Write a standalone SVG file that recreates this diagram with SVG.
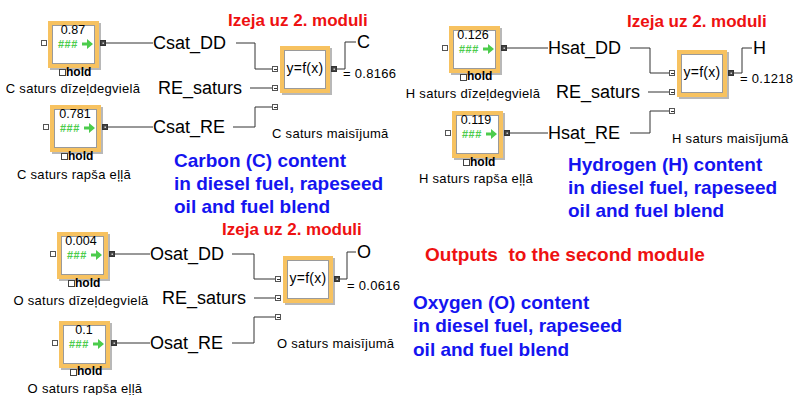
<svg xmlns="http://www.w3.org/2000/svg" xmlns:xlink="http://www.w3.org/1999/xlink" width="795" height="395" viewBox="0 0 795 395">
<style>
text{font-family:"Liberation Sans",Arial,sans-serif;fill:#000}
.var{font-size:18px}
.lbl{font-size:13px;letter-spacing:0.3px}
.val{font-size:12.5px;text-anchor:middle}
.hash{font-size:11px;font-weight:bold;fill:#4ccc4c;letter-spacing:0.5px}
.hold{font-size:12px;font-weight:bold}
.fx{font-size:14px;text-anchor:middle;letter-spacing:0.3px}
.res{font-size:13px;letter-spacing:0.3px}
.red{font-size:17px;font-weight:bold;fill:#ee1111}
.red2{font-size:19px;font-weight:bold;fill:#ee1111;white-space:pre}
.blue{font-size:19px;font-weight:bold;fill:#1414f0}
.shadow{fill:#b8b8b8}
.frame{fill:#fff;stroke:#f7c260;stroke-width:4}
.inner{fill:none;stroke:#9a9a9a;stroke-width:1}
.in{fill:#fff;stroke:#555;stroke-width:1}
.out{fill:#444;stroke:#333;stroke-width:1}
.chk{fill:#fff;stroke:#444;stroke-width:1}
.wire{fill:none;stroke:#333;stroke-width:1}
</style>
<defs>
<g id="nb">
<rect class="shadow" x="2" y="2" width="51" height="47"/>
<rect class="frame" x="2" y="2" width="47" height="43"/>
<rect class="inner" x="4.5" y="4.5" width="42" height="38"/>
<path d="M34,21.5 h5 v-3.5 l6,5 l-6,5 v-3.5 h-5 z" fill="#4ccc4c"/>
<rect class="in" x="-6.5" y="19.5" width="5" height="5"/>
<rect class="out" x="52.5" y="19.5" width="5" height="5"/>
<rect x="54.5" y="21.5" width="1.5" height="1.5" fill="#ccc"/>
<rect class="chk" x="11.5" y="48.5" width="6" height="6"/>
</g>
<g id="fb">
<rect class="shadow" x="2" y="2" width="50" height="47"/>
<rect class="frame" x="2" y="2" width="46" height="43"/>
<rect class="inner" x="4.5" y="4.5" width="41" height="38"/>
<rect class="in" x="-7.5" y="20.5" width="5" height="5"/><path d="M-6,23.5 h3" class="wire"/>
<rect class="in" x="-7.5" y="39.5" width="5" height="5"/><path d="M-6,42.5 h3" class="wire"/>
<rect class="in" x="-7.5" y="58.5" width="5" height="5"/><path d="M-6,61.5 h3" class="wire"/>
<rect class="out" x="51.5" y="20.5" width="5" height="5"/>
<rect x="53.5" y="22.5" width="1.5" height="1.5" fill="#ccc"/>
</g>
</defs>

<g id="connectors">
<path class="wire" d="M106,43 H153"/>
<path class="wire" d="M236,43 H255 V69 H272"/>
<path class="wire" d="M250,88 H272"/>
<path class="wire" d="M233,127 H255 V107 H272"/>
<path class="wire" d="M108,127 H153"/>
<path class="wire" d="M337,69 H345 V42 H356"/>
<path class="wire" d="M507,48 H548"/>
<path class="wire" d="M630,48 H650 V73 H669"/>
<path class="wire" d="M648,92 H669"/>
<path class="wire" d="M630,133 H650 V111 H669"/>
<path class="wire" d="M510,133 H548"/>
<path class="wire" d="M734,73 H742 V48 H752"/>
<path class="wire" d="M115,254 H150"/>
<path class="wire" d="M232,254 H254 V279 H275"/>
<path class="wire" d="M254,298 H275"/>
<path class="wire" d="M232,343 H254 V317 H275"/>
<path class="wire" d="M117,343 H150"/>
<path class="wire" d="M340,279 H347 V252 H356"/>
</g>

<!-- Carbon group -->
<g id="c_dd">
<use href="#nb" transform="translate(48,21)"/>
<text class="val" x="73" y="34">0.87</text>
<text class="hash" x="58" y="48">###</text>
<text class="hold" x="66" y="76">hold</text>
<text class="lbl" x="73" y="93" text-anchor="middle">C saturs dīzeļdegvielā</text>
</g>
<g id="c_re">
<use href="#nb" transform="translate(50,105)"/>
<text class="val" x="75" y="118">0.781</text>
<text class="hash" x="60" y="132">###</text>
<text class="hold" x="68" y="160">hold</text>
<text class="lbl" x="74" y="179" text-anchor="middle">C saturs rapša eļļā</text>
</g>
<g id="c_vars">
<text class="var" x="153" y="49">Csat_DD</text>
<text class="var" x="158" y="94">RE_saturs</text>
<text class="var" x="153" y="133">Csat_RE</text>
</g>
<g id="c_fx">
<use href="#fb" transform="translate(280,46)"/>
<text class="fx" x="305" y="73">y=f(x)</text>
<text class="var" x="357" y="48">C</text>
<text class="res" x="343" y="78">= 0.8166</text>
<text class="lbl" x="272" y="138">C saturs maisījumā</text>
</g>
<text class="red" x="228" y="26">Izeja uz 2. moduli</text>
<text class="blue"><tspan x="174" y="167">Carbon (C) content</tspan><tspan x="174" y="190">in diesel fuel, rapeseed</tspan><tspan x="174" y="213">oil and fuel blend</tspan></text>

<!-- Hydrogen group -->
<g id="h_dd">
<use href="#nb" transform="translate(449,26)"/>
<text class="val" x="473" y="39">0.126</text>
<text class="hash" x="459" y="53">###</text>
<text class="hold" x="467" y="80">hold</text>
<text class="lbl" x="473" y="98" text-anchor="middle">H saturs dīzeļdegvielā</text>
</g>
<g id="h_re">
<use href="#nb" transform="translate(452,111)"/>
<text class="val" x="476" y="124">0.119</text>
<text class="hash" x="462" y="138">###</text>
<text class="hold" x="470" y="166">hold</text>
<text class="lbl" x="476" y="183" text-anchor="middle">H saturs rapša eļļā</text>
</g>
<g id="h_vars">
<text class="var" x="548" y="54">Hsat_DD</text>
<text class="var" x="556" y="98">RE_saturs</text>
<text class="var" x="548" y="139">Hsat_RE</text>
</g>
<g id="h_fx">
<use href="#fb" transform="translate(677,50)"/>
<text class="fx" x="702" y="77">y=f(x)</text>
<text class="var" x="753" y="54">H</text>
<text class="res" x="740" y="83">= 0.1218</text>
<text class="lbl" x="672" y="143">H saturs maisījumā</text>
</g>
<text class="red" x="627" y="27">Izeja uz 2. moduli</text>
<text class="blue"><tspan x="568" y="171">Hydrogen (H) content</tspan><tspan x="568" y="194">in diesel fuel, rapeseed</tspan><tspan x="568" y="217">oil and fuel blend</tspan></text>

<!-- Oxygen group -->
<g id="o_dd">
<use href="#nb" transform="translate(57,232)"/>
<text class="val" x="81" y="245">0.004</text>
<text class="hash" x="67" y="259">###</text>
<text class="hold" x="75" y="287">hold</text>
<text class="lbl" x="81" y="305" text-anchor="middle">O saturs dīzeļdegvielā</text>
</g>
<g id="o_re">
<use href="#nb" transform="translate(59,321)"/>
<text class="val" x="84" y="334">0.1</text>
<text class="hash" x="69" y="348">###</text>
<text class="hold" x="77" y="375">hold</text>
<text class="lbl" x="85" y="393" text-anchor="middle">O saturs rapša eļļā</text>
</g>
<g id="o_vars">
<text class="var" x="150" y="260">Osat_DD</text>
<text class="var" x="162" y="304">RE_saturs</text>
<text class="var" x="150" y="349">Osat_RE</text>
</g>
<g id="o_fx">
<use href="#fb" transform="translate(283,256)"/>
<text class="fx" x="308" y="283">y=f(x)</text>
<text class="var" x="357" y="258">O</text>
<text class="res" x="347" y="290">= 0.0616</text>
<text class="lbl" x="277" y="348">O saturs maisījumā</text>
</g>
<text class="red" x="222" y="235">Izeja uz 2. moduli</text>
<text class="blue"><tspan x="413" y="309">Oxygen (O) content</tspan><tspan x="413" y="332">in diesel fuel, rapeseed</tspan><tspan x="413" y="356">oil and fuel blend</tspan></text>

<text class="red2" x="425" y="261">Outputs  to the second module</text>
</svg>
